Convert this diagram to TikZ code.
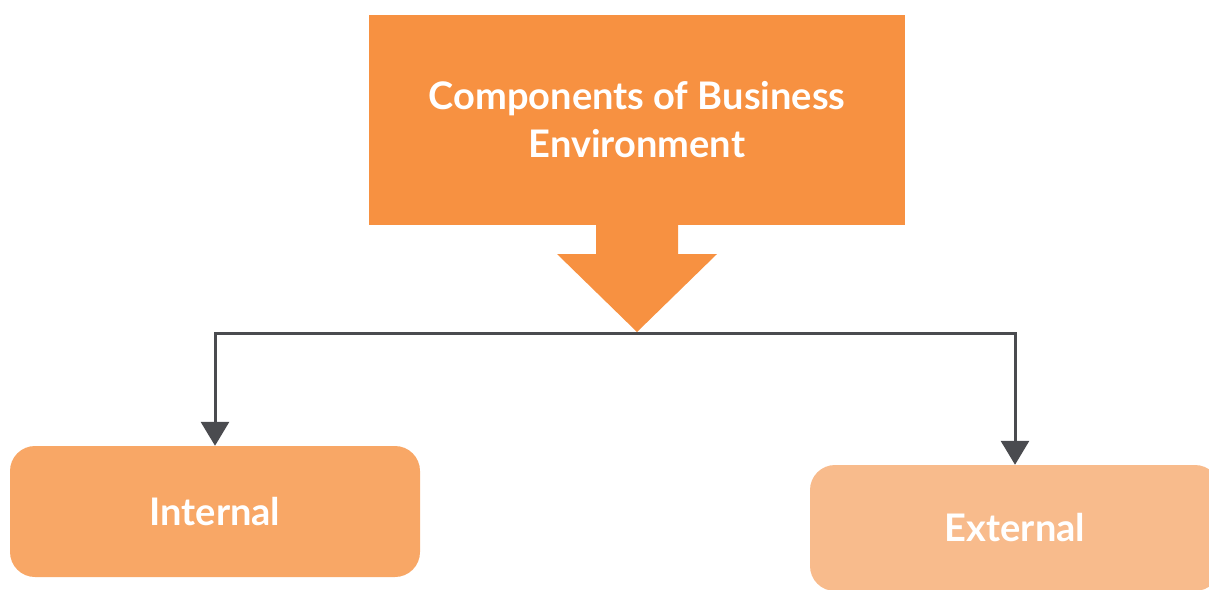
\documentclass[tikz,border=0pt]{standalone}
\usepackage{fontspec}
\setmainfont{Lato}
\usetikzlibrary{arrows.meta}
\definecolor{topc}{RGB}{247,145,65}
\definecolor{intc}{RGB}{248,167,102}
\definecolor{extc}{RGB}{248,187,140}
\definecolor{linec}{RGB}{74,75,79}
\tikzset{
  lbl/.style={text=white,font=\fontsize{38}{48}\selectfont\bfseries,align=center},
  box/.style={lbl,inner sep=0pt},
  conn/.style={draw=linec,line width=3pt,-{Triangle[width=28pt,length=24pt]}},
}
\begin{document}
\begin{tikzpicture}[x=1pt,y=-1pt]
\useasboundingbox (0,0) rectangle (1209,589);
\clip (0,0) rectangle (1209,589);
\node[box,fill=topc,minimum width=536pt,minimum height=210pt] (top) at (637,120) {Components of Business\\Environment};
\fill[topc] (596,224) -- (678,224) -- (678,254) -- (717,254) -- (637,332) -- (557,254) -- (596,254) -- cycle;
\coordinate (tip) at (637,333);
\node[box,fill=intc,rounded corners=25pt,minimum width=410pt,minimum height=131pt] (int) at (215,511.5) {Internal};
\node[box,fill=extc,rounded corners=25pt,minimum width=410pt,minimum height=126pt] (ext) at (1015,528) {External};
\draw[conn] (tip) -| (int.north);
\draw[conn] (tip) -| (ext.north);
\end{tikzpicture}
\end{document}
